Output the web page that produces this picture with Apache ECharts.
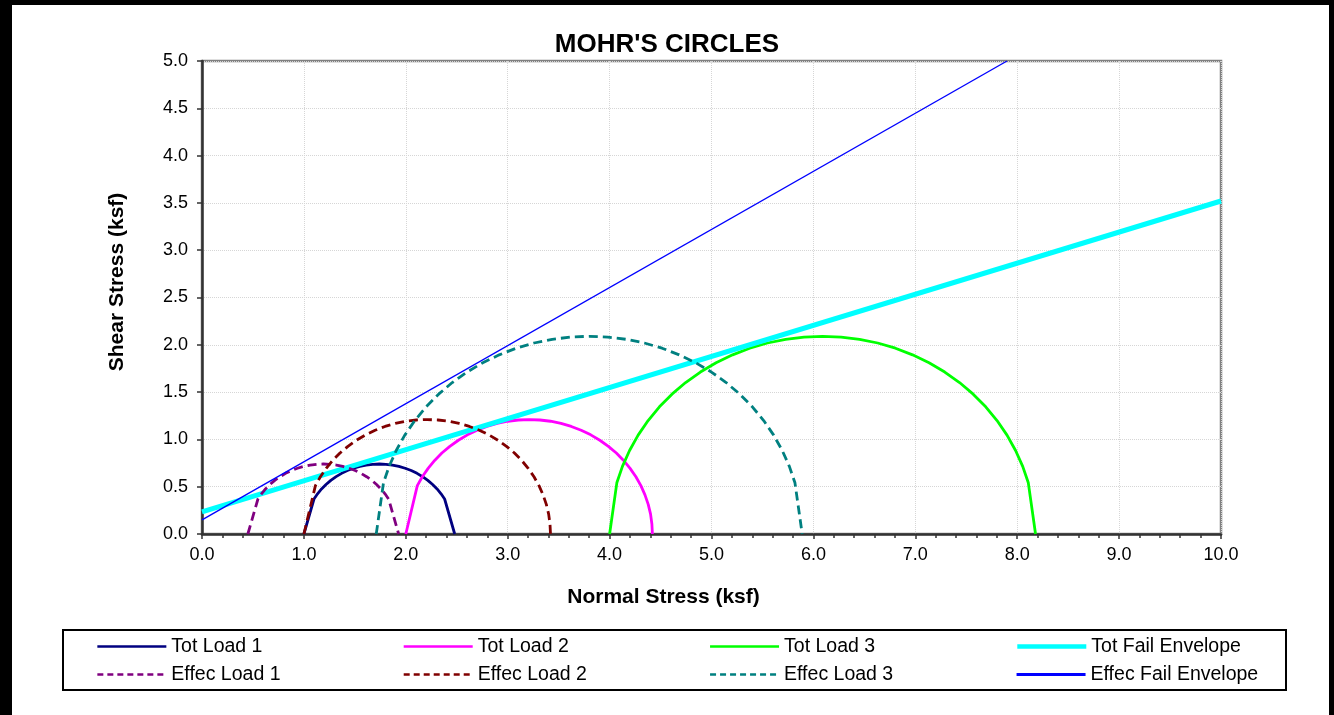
<!DOCTYPE html>
<html><head><meta charset="utf-8">
<script src="https://cdn.jsdelivr.net/npm/echarts@6/dist/echarts.min.js"></script>
<style>html,body{margin:0;padding:0;background:#fff}#c{width:1334px;height:715px}</style>
</head><body><div id="c"></div>
<script>
// ---- data (normal stress, shear stress) ----
const totLoad1 = [[1.000,0],[1.099,0.370],[1.134,0.425],[1.173,0.476],[1.217,0.523],[1.264,0.567],[1.316,0.606],[1.370,0.641],[1.427,0.671],[1.487,0.695],[1.549,0.715],[1.611,0.729],[1.676,0.737],[1.740,0.740],[1.805,0.737],[1.869,0.729],[1.932,0.715],[1.993,0.695],[2.053,0.671],[2.110,0.641],[2.165,0.606],[2.216,0.567],[2.263,0.523],[2.307,0.476],[2.346,0.425],[2.381,0.370],[2.480,0]];
const totLoad2 = [[2.000,0],[2.113,0.511],[2.162,0.605],[2.219,0.694],[2.283,0.778],[2.354,0.856],[2.432,0.927],[2.516,0.991],[2.605,1.048],[2.699,1.097],[2.796,1.137],[2.897,1.169],[3.000,1.192],[3.104,1.205],[3.210,1.210],[3.316,1.205],[3.420,1.192],[3.523,1.169],[3.624,1.137],[3.721,1.097],[3.815,1.048],[3.904,0.991],[3.988,0.927],[4.066,0.856],[4.137,0.778],[4.201,0.694],[4.258,0.605],[4.307,0.511],[4.347,0.414],[4.379,0.313],[4.402,0.210],[4.415,0.106],[4.420,0]];
const totLoad3 = [[4.000,0],[4.071,0.541],[4.126,0.715],[4.196,0.883],[4.280,1.045],[4.378,1.199],[4.489,1.344],[4.612,1.478],[4.746,1.601],[4.891,1.712],[5.045,1.810],[5.207,1.894],[5.375,1.964],[5.549,2.019],[5.727,2.058],[5.908,2.082],[6.090,2.090],[6.272,2.082],[6.453,2.058],[6.631,2.019],[6.805,1.964],[6.973,1.894],[7.135,1.810],[7.289,1.712],[7.434,1.601],[7.568,1.478],[7.691,1.344],[7.802,1.199],[7.900,1.045],[7.984,0.883],[8.054,0.715],[8.109,0.541],[8.180,0]];
const totFailEnvelope = [[0,0.235],[10,3.52]];
const effecLoad1 = [[0.450,0],[0.549,0.370],[0.584,0.425],[0.623,0.476],[0.667,0.523],[0.714,0.567],[0.766,0.606],[0.820,0.641],[0.877,0.671],[0.937,0.695],[0.999,0.715],[1.061,0.729],[1.126,0.737],[1.190,0.740],[1.255,0.737],[1.319,0.729],[1.382,0.715],[1.443,0.695],[1.503,0.671],[1.560,0.641],[1.615,0.606],[1.666,0.567],[1.713,0.523],[1.757,0.476],[1.796,0.425],[1.831,0.370],[1.930,0]];
const effecLoad2 = [[1.000,0],[1.113,0.511],[1.162,0.605],[1.219,0.694],[1.283,0.778],[1.354,0.856],[1.432,0.927],[1.516,0.991],[1.605,1.048],[1.699,1.097],[1.796,1.137],[1.897,1.169],[2.000,1.192],[2.104,1.205],[2.210,1.210],[2.316,1.205],[2.420,1.192],[2.523,1.169],[2.624,1.137],[2.721,1.097],[2.815,1.048],[2.904,0.991],[2.988,0.927],[3.066,0.856],[3.137,0.778],[3.201,0.694],[3.258,0.605],[3.307,0.511],[3.347,0.414],[3.379,0.313],[3.402,0.210],[3.415,0.106],[3.420,0]];
const effecLoad3 = [[1.710,0],[1.781,0.541],[1.836,0.715],[1.906,0.883],[1.990,1.045],[2.088,1.199],[2.199,1.344],[2.322,1.478],[2.456,1.601],[2.601,1.712],[2.755,1.810],[2.917,1.894],[3.085,1.964],[3.259,2.019],[3.437,2.058],[3.618,2.082],[3.800,2.090],[3.982,2.082],[4.163,2.058],[4.341,2.019],[4.515,1.964],[4.683,1.894],[4.845,1.810],[4.999,1.712],[5.144,1.601],[5.278,1.478],[5.401,1.344],[5.512,1.199],[5.610,1.045],[5.694,0.883],[5.764,0.715],[5.819,0.541],[5.890,0]];
const effecFailEnvelope = [[0,0.15],[7.9,5.0]];
const seriesNames = ['Tot Load 1','Tot Load 2','Tot Load 3','Tot Fail Envelope','Effec Load 1','Effec Load 2','Effec Load 3','Effec Fail Envelope'];
const xMin = 0, xMax = 10, xStep = 1;
const yMin = 0, yMax = 5, yStep = 0.5;

const FONT = 'Arial, "Liberation Sans", sans-serif';
const chart = echarts.init(document.getElementById('c'));

function mk(name, data, color, width, dashed, z) {
  return {
    name, type: 'line', data, symbol: 'none', smooth: false, z: z,
    lineStyle: { color, width, type: dashed ? [9, 5] : 'solid', cap: 'butt', join: 'round' },
    itemStyle: { color },
    emphasis: { disabled: true }, animation: false
  };
}
const axisCommon = {
  axisLine: { show: true, onZero: false, lineStyle: { color: '#333', width: 2.5 } },
  axisTick: { show: true, length: 5, lineStyle: { color: '#333', width: 1.5 } },
  splitLine: { show: true, lineStyle: { color: '#d6d6d6', type: 'dotted', width: 1 } },
  axisLabel: { fontSize: 18, color: '#000', fontFamily: FONT, formatter: v => v.toFixed(1) }
};
function legendItem(name, width, dashed) {
  return { name, lineStyle: { width, type: dashed ? [6, 4] : 'solid' } };
}
const legendCommon = {
  orient: 'horizontal', padding: 0, itemWidth: 69, itemHeight: 14, itemGap: 41,
  selectedMode: false,
  itemStyle: { opacity: 0 },
  textStyle: { fontSize: 19.5, color: '#000', fontFamily: FONT, width: 190, lineHeight: 14 }
};

chart.setOption({
  animation: false,
  backgroundColor: '#fff',
  title: { text: "MOHR'S CIRCLES", left: 'center', top: 27,
    textStyle: { fontSize: 26, fontWeight: 'bold', color: '#000', fontFamily: FONT } },
  grid: { left: 202, right: 113, top: 61, bottom: 181, show: true, borderColor: '#808080', borderWidth: 2.5, backgroundColor: 'transparent' },
  xAxis: Object.assign({ type: 'value', min: xMin, max: xMax, interval: xStep,
    minorTick: { show: true, splitNumber: 5, length: 4, lineStyle: { color: '#333', width: 1.5 } } }, axisCommon,
    { axisLabel: Object.assign({}, axisCommon.axisLabel, { margin: 12 }) }),
  yAxis: Object.assign({ type: 'value', min: yMin, max: yMax, interval: yStep }, axisCommon,
    { axisLabel: Object.assign({}, axisCommon.axisLabel, { margin: 14 }) }),
  legend: [
    Object.assign({ left: 96, top: 636.5, data: [
      legendItem(seriesNames[0], 2.7, false), legendItem(seriesNames[1], 2.7, false),
      legendItem(seriesNames[2], 2.7, false), legendItem(seriesNames[3], 4.5, false)] }, legendCommon),
    Object.assign({ left: 96, top: 664.5, data: [
      legendItem(seriesNames[4], 2.7, true), legendItem(seriesNames[5], 2.7, true),
      legendItem(seriesNames[6], 2.7, true), legendItem(seriesNames[7], 3, false)] }, legendCommon)
  ],
  series: [
    mk(seriesNames[0], totLoad1, '#000080', 2.8, false, 2),
    mk(seriesNames[1], totLoad2, '#FF00FF', 2.8, false, 2),
    mk(seriesNames[2], totLoad3, '#00FF00', 2.8, false, 2),
    mk(seriesNames[3], totFailEnvelope, '#00FFFF', 5, false, 2),
    mk(seriesNames[4], effecLoad1, '#800080', 2.8, true, 2),
    mk(seriesNames[5], effecLoad2, '#800000', 2.8, true, 2),
    mk(seriesNames[6], effecLoad3, '#008080', 2.8, true, 2),
    mk(seriesNames[7], effecFailEnvelope, '#0000FF', 1.4, false, 2)
  ],
  graphic: [
    { type: 'rect', shape: { x: 0, y: 0, width: 1334, height: 5 }, style: { fill: '#000' }, silent: true },
    { type: 'rect', shape: { x: 0, y: 0, width: 12, height: 715 }, style: { fill: '#000' }, silent: true },
    { type: 'rect', shape: { x: 1329, y: 0, width: 5, height: 715 }, style: { fill: '#000' }, silent: true },
    { type: 'rect', shape: { x: 63, y: 630, width: 1223, height: 60 }, style: { fill: 'none', stroke: '#000', lineWidth: 2 }, silent: true },
    { type: 'text', x: 663.5, y: 597, silent: true,
      style: { text: 'Normal Stress (ksf)', font: 'bold 21px ' + FONT, fill: '#000', align: 'center', verticalAlign: 'middle' } },
    { type: 'text', x: 117.5, y: 282, rotation: Math.PI / 2, silent: true,
      style: { text: 'Shear Stress (ksf)', font: 'bold 21px ' + FONT, fill: '#000', align: 'center', verticalAlign: 'middle' } }
  ]
});
</script></body></html>
